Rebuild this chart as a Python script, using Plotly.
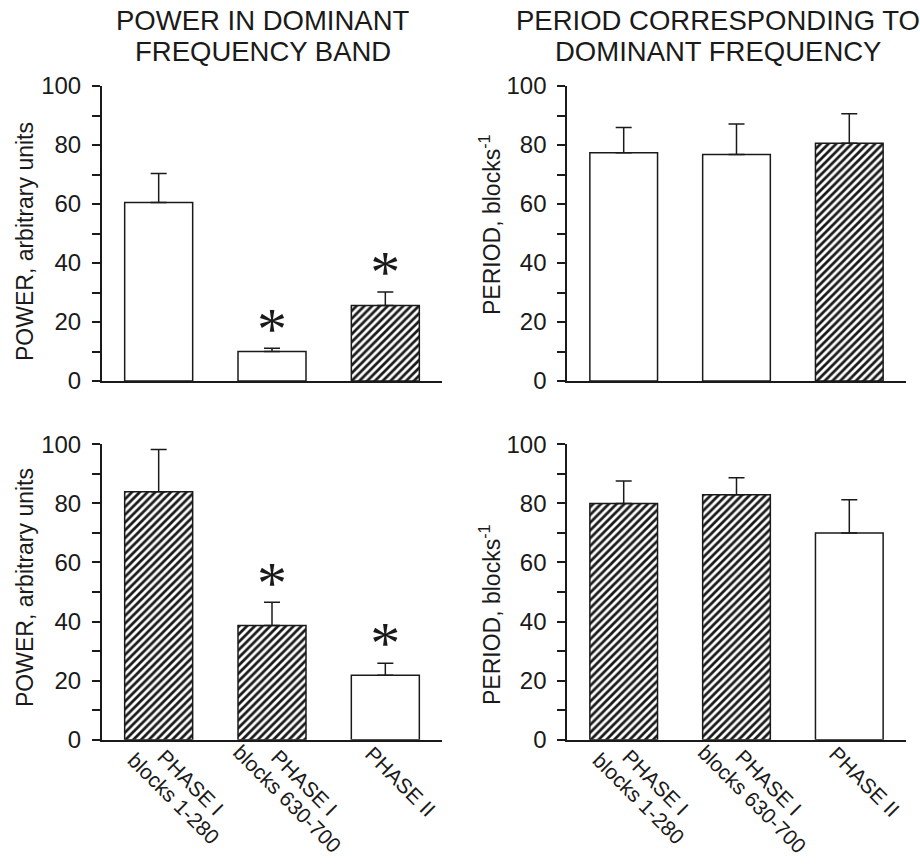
import plotly.graph_objects as go

# ---------------- data ----------------
cat_line1 = ["PHASE I", "PHASE I", "PHASE II"]
cat_line2 = ["blocks 1-280", "blocks 630-700", ""]
cat_idx = [0, 1, 2]

power_top = [60.5, 10.0, 25.6]
power_top_err = [9.8, 1.1, 4.6]
power_top_hatch = [False, False, True]
power_top_sig = [False, True, True]

period_top = [77.4, 76.8, 80.6]
period_top_err = [8.5, 10.3, 10.0]
period_top_hatch = [False, False, True]

power_bot = [83.9, 38.7, 21.8]
power_bot_err = [14.3, 7.8, 4.1]
power_bot_hatch = [True, True, False]
power_bot_sig = [False, True, True]

period_bot = [80.0, 82.9, 70.0]
period_bot_err = [7.6, 5.8, 11.2]
period_bot_hatch = [True, True, False]

y_tickvals = [0, 20, 40, 60, 80, 100]
y_ticktext = ["0", "20", "40", "60", "80", "100"]
y_minor_step = 10

title_left = ["POWER IN DOMINANT", "FREQUENCY BAND"]
title_right = ["PERIOD CORRESPONDING TO", "DOMINANT FREQUENCY"]
ytitle_power = "POWER, arbitrary units"
ytitle_period = "PERIOD, blocks<sup>-1</sup>"

# ---------------- styling ----------------
W, H = 920, 865
FONT = "Liberation Sans, Arial, sans-serif"
BLACK = "#1a1a1a"
STAR_GAP = 5.0

panels = [
    (power_top, power_top_err, power_top_hatch, power_top_sig, "x", "y"),
    (period_top, period_top_err, period_top_hatch, [False] * 3, "x2", "y2"),
    (power_bot, power_bot_err, power_bot_hatch, power_bot_sig, "x3", "y3"),
    (period_bot, period_bot_err, period_bot_hatch, [False] * 3, "x4", "y4"),
]

fig = go.Figure()
for vals, errs, hatch, sig, xa, ya in panels:
    fig.add_trace(go.Bar(
        x=cat_idx, y=vals, width=0.6, xaxis=xa, yaxis=ya,
        marker=dict(
            color="white",
            line=dict(color=BLACK, width=1.5),
            pattern=dict(shape=["/" if h else "" for h in hatch],
                         fgcolor=BLACK, bgcolor="white", size=5.5, solidity=0.5),
        ),
        error_y=dict(type="data", array=errs, arrayminus=[0] * len(errs),
                     symmetric=False, color=BLACK, thickness=1.5, width=8),
        showlegend=False, hoverinfo="skip",
    ))
    sx = [i for i, s in zip(cat_idx, sig) if s]
    sy = [v + e + STAR_GAP for v, e, s in zip(vals, errs, sig) if s]
    if sx:
        fig.add_trace(go.Scatter(
            x=sx, y=sy, mode="text", text=["*"] * len(sx), xaxis=xa, yaxis=ya,
            textposition="middle center",
            textfont=dict(family="Liberation Serif, serif", size=60, color=BLACK),
            showlegend=False, hoverinfo="skip",
        ))

xdom_l = [102 / W, 442 / W]
xdom_r = [567.3 / W, 905.7 / W]
ydom_t = [1 - 381 / H, 1 - 86 / H]
ydom_b = [1 - 739.7 / H, 1 - 444.3 / H]

def xax(dom, anchor):
    return dict(domain=dom, anchor=anchor, range=[-0.5, 2.5], showline=True,
                linecolor=BLACK, linewidth=2, ticks="", showticklabels=False,
                showgrid=False, zeroline=False, fixedrange=True)

def yax(dom, anchor):
    return dict(domain=dom, anchor=anchor, range=[0, 100], showline=True,
                linecolor=BLACK, linewidth=2, ticks="outside", ticklen=8,
                tickwidth=1.5, tickcolor=BLACK, tickvals=y_tickvals,
                ticktext=y_ticktext, ticklabelstandoff=6,
                minor=dict(dtick=y_minor_step, tick0=0, ticks="outside", ticklen=8,
                           tickwidth=1.5, tickcolor=BLACK, showgrid=False),
                tickfont=dict(family=FONT, size=24, color=BLACK),
                showgrid=False, zeroline=False, fixedrange=True)

annotations = []
# panel titles
for lines, cx in ((title_left, 262.5), (title_right, 717.5)):
    for line, cy in zip(lines, (20.5, 52.0)):
        annotations.append(dict(text=line, x=cx / W, y=1 - cy / H, xref="paper", yref="paper",
                                xanchor="center", yanchor="middle", showarrow=False,
                                font=dict(family=FONT, size=27.5, color=BLACK)))
# y-axis titles
for txt, cx, cy in ((ytitle_power, 25, 242), (ytitle_period, 490, 225),
                    (ytitle_power, 25, 588), (ytitle_period, 490, 615)):
    annotations.append(dict(text=txt, x=cx / W, y=1 - cy / H, xref="paper", yref="paper",
                            xanchor="center", yanchor="middle", textangle=-90, showarrow=False,
                            font=dict(family=FONT, size=23, color=BLACK)))
# category labels under bottom panels (two rotated lines, centred on each other)
for xa, ya in (("x3", "y3"), ("x4", "y4")):
    for i, l1, l2 in zip(cat_idx, cat_line1, cat_line2):
        if l2:
            placements = ((l1, 32, 43), (l2, 15, 59))
        else:
            placements = ((l1, 15, 42),)
        for txt, dx, dy in placements:
            annotations.append(dict(text=txt, x=i, y=0, xref=xa, yref=ya,
                                    xanchor="center", yanchor="middle",
                                    xshift=dx, yshift=-dy,
                                    textangle=45, showarrow=False,
                                    font=dict(family=FONT, size=21, color=BLACK)))

fig.update_layout(
    width=W, height=H, autosize=False,
    margin=dict(l=0, r=0, t=0, b=0, pad=0),
    paper_bgcolor="white", plot_bgcolor="white",
    template="none", bargap=0.4,
    xaxis=xax(xdom_l, "y"), yaxis=yax(ydom_t, "x"),
    xaxis2=xax(xdom_r, "y2"), yaxis2=yax(ydom_t, "x2"),
    xaxis3=xax(xdom_l, "y3"), yaxis3=yax(ydom_b, "x3"),
    xaxis4=xax(xdom_r, "y4"), yaxis4=yax(ydom_b, "x4"),
    annotations=annotations,
)

fig.write_html("out.html")
